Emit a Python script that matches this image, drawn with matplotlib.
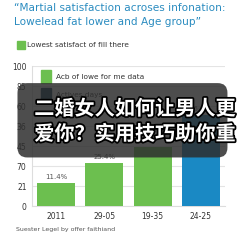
import matplotlib.pyplot as plt
import matplotlib.patheffects as pe
from matplotlib.patches import FancyBboxPatch, Rectangle
import numpy as np

# Chart data
categories = ['2011', '29-05', '19-35', '24-25']
values = [16.4, 30.7, 42.1, 65.0]
bar_labels = ['11.4%', '25.4%', '', '56.5%']
bar_colors = ['#6cbf4f', '#6cbf4f', '#6cbf4f', '#1a89c4']
ytick_labels = ['0', '21', '70', '45', '36', '60', '85', '100']

title = '\u201cMartial satisfaction acroses infonation:\nLowelead fat lower and Age group\u201d'
legend_top = 'Lowest satisfact of fill there'
legend_in = ['Acb of lowe for me data', 'Actives days']
footer = 'Suester Legel by offer faithiand'
overlay_text = '二婚女人如何让男人更\n爱你？实用技巧助你重'

fig = plt.figure(figsize=(2.43, 2.43), dpi=100)
fig.patch.set_facecolor('white')

# Title
fig.text(0.058, 0.938, title, color='#2b8cc0', fontsize=7.6, va='center', ha='left',
         linespacing=1.45)

# Top legend
fig.patches.append(Rectangle((0.068, 0.798), 0.034, 0.034, transform=fig.transFigure,
                             color='#6cbf4f', figure=fig))
fig.text(0.112, 0.815, legend_top, fontsize=5.3, color='#333333', va='center')

ax = fig.add_axes([0.132, 0.152, 0.794, 0.576])
x = np.arange(len(categories))
ax.bar(x, values, width=0.79, color=bar_colors, zorder=3)
for xi, v, lab in zip(x, values, bar_labels):
    ax.text(xi, v + 2, lab, ha='center', va='bottom', fontsize=5, color='#555555')

ax.set_xlim(-0.5, 3.5)
ax.set_ylim(0, 100)
ax.set_yticks(np.linspace(0, 100, 8))
ax.set_yticklabels(ytick_labels)
ax.set_xticks(x)
ax.set_xticklabels(categories)
ax.tick_params(axis='both', labelsize=5.5, colors='#333333', length=0, pad=4)
ax.grid(axis='y', color='#e4e4e4', linewidth=0.8, zorder=0)
for s in ['top', 'right']:
    ax.spines[s].set_visible(False)
ax.spines['left'].set_color('#dddddd')
ax.spines['bottom'].set_color('#dddddd')

# Legend inside axes
for i, (lab, col) in enumerate(zip(legend_in, ['#6cbf4f', '#0d3a52'])):
    yy = 0.925 - i * 0.13
    ax.add_patch(Rectangle((0.045, yy - 0.045), 0.055, 0.09, transform=ax.transAxes,
                           color=col, zorder=4))
    ax.text(0.125, yy, lab, transform=ax.transAxes, fontsize=5.3, color='#333333',
            va='center', zorder=4)

# Footer
fig.text(0.066, 0.057, footer, fontsize=4.5, color='#555555', va='center')

# Dark caption overlay
box = FancyBboxPatch((0.072, 0.352), 0.864, 0.306, boxstyle='round,pad=0,rounding_size=0.04',
                     transform=fig.transFigure, facecolor='#2e2e2e', alpha=0.85,
                     edgecolor='none', figure=fig, zorder=10)
fig.patches.append(box)
fig.text(0.555, 0.502, overlay_text, ha='center', va='center', fontsize=14.5,
         fontweight='bold', color='white', family=['Noto Sans CJK SC', 'DejaVu Sans'],
         linespacing=1.25, zorder=11,
         path_effects=[pe.withStroke(linewidth=2.5, foreground='black')])

fig.savefig('out.png', dpi=100, facecolor='white')
